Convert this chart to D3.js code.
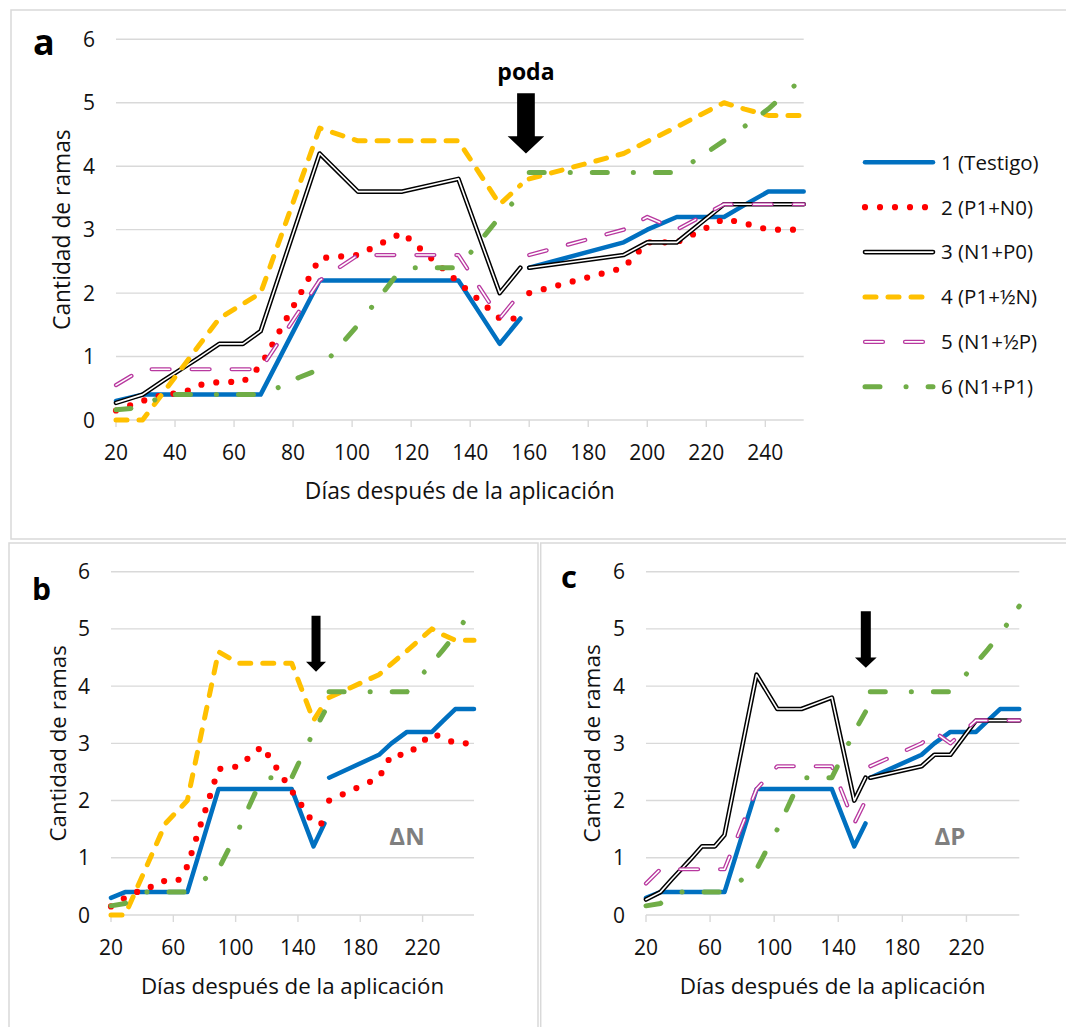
<!DOCTYPE html>
<html><head><meta charset="utf-8">
<script src="https://cdn.jsdelivr.net/npm/d3@7"></script>
<style>
body{margin:0;background:#fff;}
svg{display:block;font-family:'Open Sans',Lato,sans-serif;}
</style></head><body>
<svg id="chart" width="1066" height="1027"></svg>
<script>
// ---- data ----
const days = [20,29,36,43,48,55,63,69,76,82,89,102,117,136,143,150,157,160,192,200,210,218,226,233,241,253];
const podaBreak = 158.5; // series are interrupted by the pruning ("poda")
const s1 = [0.3,0.4,0.4,0.4,0.4,0.4,0.4,0.4,1.03,1.57,2.2,2.2,2.2,2.2,1.7,1.2,1.6, 2.4,2.8,3.0,3.2,3.2,3.2,3.39,3.6,3.6];
const s2 = [0.15,0.3,0.4,0.43,0.55,0.6,0.6,0.85,1.45,1.95,2.55,2.6,2.95,2.17,1.89,1.6,1.6, 2.0,2.4,2.8,2.8,2.98,3.17,3.1,3.0,3.0];
const s3 = [0.27,0.4,0.62,0.83,0.98,1.2,1.2,1.4,2.38,3.22,4.2,3.6,3.6,3.8,2.9,2.0,2.4, 2.4,2.6,2.8,2.8,3.1,3.4,3.4,3.4,3.4];
const s4 = [0.0,0.0,0.43,0.86,1.17,1.6,1.83,2.0,2.91,3.69,4.6,4.4,4.4,4.4,3.9,3.4,3.7, 3.8,4.2,4.39,4.62,4.81,5.0,4.9,4.8,4.8];
const s5 = [0.55,0.8,0.8,0.8,0.8,0.8,0.8,0.8,1.29,1.71,2.2,2.6,2.6,2.6,2.1,1.6,2.0, 2.6,3.0,3.2,3.0,3.2,3.4,3.4,3.4,3.4];
const s6 = [0.16,0.2,0.4,0.4,0.4,0.4,0.4,0.4,0.53,0.67,0.8,1.5,2.4,2.4,2.8,3.2,3.55, 3.9,3.9,3.9,3.9,4.15,4.4,4.63,4.9,5.4];
const seriesValues = [s1,s2,s3,s4,s5,s6];
const seriesNames = ["1 (Testigo)","2 (P1+N0)","3 (N1+P0)","4 (P1+\u00BDN)","5 (N1+\u00BDP)","6 (N1+P1)"];
const yTicks = [0,1,2,3,4,5,6];
const xTicksA = [20,40,60,80,100,120,140,160,180,200,220,240];
const xTicksBC = [20,60,100,140,180,220];
const xDomain = [20,253];
const yDomain = [0,6];

// ---- styles ----
const styles = [
  {color:"#0070C0", w:4.5},
  {color:"#FF0000", w:6.2, dash:"0 15"},
  {color:"#000000", w:4.6, inner:1.6},
  {color:"#FFC000", w:5, dash:"11 12"},
  {color:"#B8389F", w:4.2, inner:1.6, dash:"18 22"},
  {color:"#70AD47", w:5, dash:"15 26 0.1 22"}
];
const GRID = "#D9D9D9";
const TXT = "#111";
const svg = d3.select("#chart");

// panel borders
svg.append("rect").attr("x",11).attr("y",10).attr("width",1100).attr("height",529)
  .attr("fill","none").attr("stroke",GRID).attr("stroke-width",1.5);
svg.append("rect").attr("x",9).attr("y",543).attr("width",529).attr("height",520)
  .attr("fill","none").attr("stroke",GRID).attr("stroke-width",1.5);
svg.append("rect").attr("x",540.7).attr("y",543).attr("width",600).attr("height",520)
  .attr("fill","none").attr("stroke",GRID).attr("stroke-width",1.5);

function drawSeries(g, x, y, idx, vals){
  const st = styles[idx];
  const pts = days.map((d,i)=>[d,vals[i]]);
  const segs = [pts.filter(p=>p[0]<podaBreak), pts.filter(p=>p[0]>podaBreak)];
  const line = d3.line().x(p=>x(p[0])).y(p=>y(p[1]));
  segs.forEach(seg=>{
    const p = g.append("path").attr("d",line(seg)).attr("fill","none")
      .attr("stroke",st.color).attr("stroke-width",st.w)
      .attr("stroke-linejoin","round").attr("stroke-linecap","round");
    if(st.dash) p.attr("stroke-dasharray",st.dash);
    if(st.inner){
      const q = g.append("path").attr("d",line(seg)).attr("fill","none")
        .attr("stroke","#fff").attr("stroke-width",st.inner)
        .attr("stroke-linejoin","round").attr("stroke-linecap","round");
      if(st.dash) q.attr("stroke-dasharray",st.dash);
    }
  });
}

function panel(cfg){
  const g = svg.append("g");
  const x = d3.scaleLinear().domain(xDomain).range([cfg.x0,cfg.x1]);
  const y = d3.scaleLinear().domain(yDomain).range([cfg.y0,cfg.y6]);
  // grid
  g.selectAll(".grid").data(yTicks).join("line")
    .attr("x1",cfg.x0).attr("x2",cfg.x1).attr("y1",d=>y(d)).attr("y2",d=>y(d))
    .attr("stroke",GRID).attr("stroke-width",1.4);
  // x tick marks
  g.selectAll(".tk").data(cfg.xTicks).join("line")
    .attr("x1",d=>x(d)).attr("x2",d=>x(d)).attr("y1",y(0)).attr("y2",y(0)+7)
    .attr("stroke",GRID).attr("stroke-width",1.4);
  // y labels
  g.selectAll(".yl").data(yTicks).join("text")
    .attr("x",cfg.x0-21).attr("y",d=>y(d)).attr("dy","0.36em")
    .attr("text-anchor","end").attr("font-size",21).attr("fill",TXT).text(d=>d);
  // x labels
  g.selectAll(".xl").data(cfg.xTicks).join("text")
    .attr("x",d=>x(d)).attr("y",y(0)+32).attr("dy","0.36em")
    .attr("text-anchor","middle").attr("font-size",21).attr("fill",TXT).text(d=>d);
  // titles
  g.append("text").attr("x",(cfg.x0+cfg.x1)/2).attr("y",y(0)+79)
    .attr("text-anchor","middle").attr("font-size",cfg.tsize).attr("fill",TXT)
    .text("D\u00EDas despu\u00E9s de la aplicaci\u00F3n");
  g.append("text").attr("transform",`translate(${cfg.yTitleX},${(cfg.y0+cfg.y6)/2}) rotate(-90)`)
    .attr("text-anchor","middle").attr("font-size",cfg.tsize).attr("fill",TXT)
    .text("Cantidad de ramas");
  // panel letter
  g.append("text").attr("x",cfg.lx).attr("y",cfg.ly).attr("font-size",cfg.lsize)
    .attr("font-weight","bold").attr("fill","#000").text(cfg.letter);
  // series
  cfg.series.forEach(i=>drawSeries(g,x,y,i,seriesValues[i]));
  // arrow (pruning)
  const cx = x(cfg.arrow.day), top = y(cfg.arrow.top), tip = y(cfg.arrow.tip);
  const sw = cfg.arrow.shaft/2, hw = cfg.arrow.head/2, hh = cfg.arrow.headH;
  g.append("path").attr("d",`M${cx-sw},${top}H${cx+sw}V${tip-hh}H${cx+hw}L${cx},${tip}L${cx-hw},${tip-hh}H${cx-sw}Z`)
    .attr("fill","#000");
  if(cfg.delta){
    g.append("text").attr("x",x(cfg.delta.day)).attr("y",y(cfg.delta.y)).attr("dy","0.36em")
      .attr("text-anchor","middle").attr("font-size",24).attr("font-weight","bold")
      .attr("fill","#7F7F7F").text(cfg.delta.text);
  }
  return {g,x,y};
}

const A = panel({x0:116,x1:803.7,y0:420,y6:39.3,xTicks:xTicksA,yTitleX:70,tsize:22.8,
  letter:"a",lx:33,ly:55,lsize:36,series:[0,1,2,3,4,5],
  arrow:{day:158.9,top:5.15,tip:4.2,shaft:17.7,head:36.6,headH:17.3}});
A.g.append("text").attr("x",A.x(158.9)).attr("y",80).attr("text-anchor","middle")
  .attr("font-size",23).attr("font-weight","bold").attr("fill","#000").text("poda");

panel({x0:111,x1:474,y0:915,y6:571.7,xTicks:xTicksBC,yTitleX:66,tsize:22.3,
  letter:"b",lx:32,ly:600,lsize:30,series:[0,1,3,5],
  arrow:{day:151.6,top:5.23,tip:4.25,shaft:9,head:20,headH:10},
  delta:{day:210,y:1.37,text:"\u0394N"}});

panel({x0:646,x1:1019.3,y0:915,y6:571.7,xTicks:xTicksBC,yTitleX:600,tsize:22.5,
  letter:"c",lx:561,ly:588,lsize:31,series:[0,2,4,5],
  arrow:{day:157.2,top:5.31,tip:4.32,shaft:10,head:21.7,headH:10.4},
  delta:{day:209.7,y:1.37,text:"\u0394P"}});

// legend (panel a)
const lg = svg.append("g");
const lx0 = 865, lx1 = 933, ltx = 941;
seriesNames.forEach((name,i)=>{
  const yy = 162.3 + i*44.9;
  const st = styles[i];
  const p = lg.append("line").attr("x1",lx0).attr("x2",lx1).attr("y1",yy).attr("y2",yy)
    .attr("stroke",st.color).attr("stroke-width",st.w).attr("stroke-linecap","round");
  if(st.dash) p.attr("stroke-dasharray",st.dash);
  if(st.inner){
    const q = lg.append("line").attr("x1",lx0).attr("x2",lx1).attr("y1",yy).attr("y2",yy)
      .attr("stroke","#fff").attr("stroke-width",st.inner).attr("stroke-linecap","round");
    if(st.dash) q.attr("stroke-dasharray",st.dash);
  }
  lg.append("text").attr("x",ltx).attr("y",yy).attr("dy","0.36em")
    .attr("font-size",20.5).attr("fill",TXT).text(name);
});
</script>
</body></html>
